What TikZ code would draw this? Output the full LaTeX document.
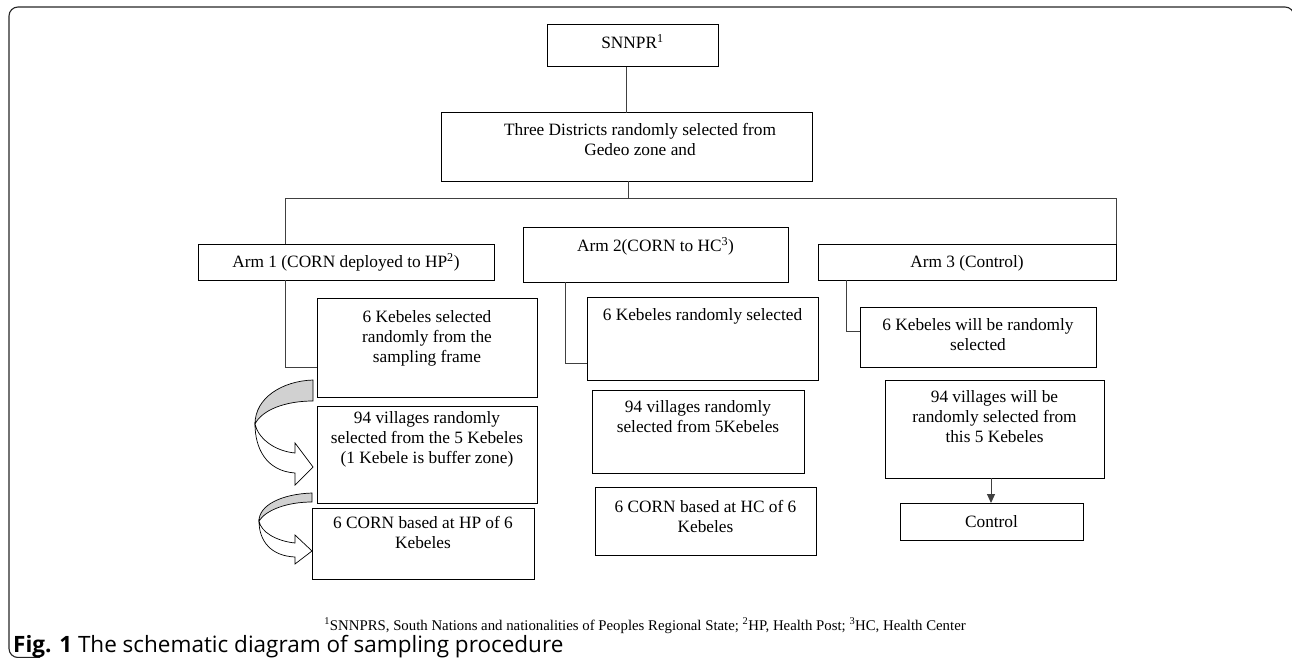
\documentclass[tikz,border=0pt]{standalone}
\usepackage{fontspec}
\setmainfont{Liberation Serif}
\newfontfamily\capfont{Open Sans}
\usetikzlibrary{calc,arrows.meta}

% name, x1, y1, x2, y2, first baseline, text, horizontal text shift
\newcommand\myboxs[8]{%
  \node[box, minimum width={#4-#2}, minimum height={#5-#3}] (#1) at ({(#2+#4)/2},{(#3+#5)/2}) {};
  \node[txt, anchor=north] (#1t) at ({(#2+#4)/2+#8},{#6-14}) {\strut #7};}
\newcommand\mybox[7]{\myboxs{#1}{#2}{#3}{#4}{#5}{#6}{#7}{0}}

\begin{document}
\begin{tikzpicture}[x=1pt,y=-1pt,
  box/.style={draw=black, line width=1pt, inner sep=0pt, outer sep=0pt},
  txt/.style={inner sep=0pt, align=center, font=\fontsize{17.3}{20}\selectfont},
  conn/.style={draw=black!75, line width=1pt},
  bendface/.style={fill=black!18, draw=black, line width=0.7pt},
  bendbody/.style={fill=white, draw=black, line width=0.7pt, line join=miter}]
\useasboundingbox (0,0) rectangle (1292,658);

% outer frame
\draw[black!85, line width=1.1pt, rounded corners=9pt] (40,657.5) -- (9,657.5) -- (9,7) -- (1294,7) -- (1294,60);

% boxes
\mybox{snnpr}{547}{25}{718}{67}{48}{SNNPR\textsuperscript{1}}
\myboxs{dist}{441}{113}{812}{181}{135}{Three Districts randomly selected from\\Gedeo zone and}{13.5}
\mybox{armA}{198}{244}{494}{280}{267}{Arm 1 (CORN deployed to HP\textsuperscript{2})}
\mybox{armB}{523}{227}{788}{282}{251}{Arm 2(CORN to HC\textsuperscript{3})}
\mybox{armC}{818}{244}{1116}{280}{267}{Arm 3 (Control)}
\mybox{kA}{317}{298}{537}{397}{322}{6 Kebeles selected\\randomly from the\\sampling frame}
\mybox{kB}{587}{297}{818}{380}{320}{6 Kebeles randomly selected}
\mybox{kC}{860}{307}{1096}{367}{330}{6 Kebeles will be randomly\\selected}
\mybox{vA}{317}{406}{537}{503}{423}{94 villages randomly\\selected from the 5 Kebeles\\(1 Kebele is buffer zone)}
\mybox{vB}{592}{390}{804}{473}{412}{94 villages randomly\\selected from 5Kebeles}
\mybox{vC}{885}{380}{1104}{478}{402}{94 villages will be\\randomly selected from\\this 5 Kebeles}
\mybox{cA}{312}{508}{534}{579}{528}{6 CORN based at HP of 6\\Kebeles}
\mybox{cB}{595}{487}{816}{555}{512}{6 CORN based at HC of 6\\Kebeles}
\mybox{ctrl}{900}{503}{1083}{540}{527}{Control}

% helper coordinates
\coordinate (xs) at (626,0);
\coordinate (xd) at (628,0);
\coordinate (hL) at (285,198);
\coordinate (hR) at (1116,198);
\coordinate (jA) at (285,367);
\coordinate (jB) at (565,363);
\coordinate (jC) at (846,331);
\coordinate (xv) at (991,0);

% connectors
\draw[conn] (snnpr.south -| xs) -- (dist.north -| xs);
\draw[conn] (dist.south -| xd) -- (xd |- hL);
\draw[conn] (armA.north -| hL) -- (hL) -- (hR) -- (armC.north -| hR);
\draw[conn] (armA.south -| jA) -- (jA) -- (kA.west |- jA);
\draw[conn] (armB.south -| jB) -- (jB) -- (kB.west |- jB);
\draw[conn] (armC.south -| jC) -- (jC) -- (kC.west |- jC);
\draw[conn, -{Triangle[length=9pt,width=8pt]}] (vC.south -| xv) -- (ctrl.north -| xv);

% curved block arrows
\path[bendface] (313,380) .. controls (282,381) and (255,398) .. (255,424)
  .. controls (262,410) and (285,401) .. (313,401) -- cycle;
\path[bendbody] (255,424) .. controls (258,438) and (274,451) .. (295,453)
  -- (295,443) -- (313,467) -- (295,485) -- (295,473)
  .. controls (266,471) and (255,448) .. (255,424) -- cycle;

\path[bendface] (312,493) .. controls (282,494) and (259,505) .. (259,521)
  .. controls (266,510) and (287,502) .. (312,502) -- cycle;
\path[bendbody] (259,521) .. controls (261,532) and (276,541) .. (295,543)
  -- (295,535) -- (312,551) -- (295,564) -- (295,557)
  .. controls (271,556) and (259,541) .. (259,521) -- cycle;

% footnote and caption
\node[inner sep=0pt, anchor=base, font=\fontsize{14.8}{17}\selectfont] (foot) at (645,630)
  {\textsuperscript{1}SNNPRS, South Nations and nationalities of Peoples Regional State; \textsuperscript{2}HP, Health Post; \textsuperscript{3}HC, Health Center};
\node[inner sep=0pt, anchor=base west, font=\capfont\fontsize{22.5}{26}\selectfont] (cap) at (13,652)
  {\textbf{Fig. 1} The schematic diagram of sampling procedure};
\end{tikzpicture}
\end{document}
